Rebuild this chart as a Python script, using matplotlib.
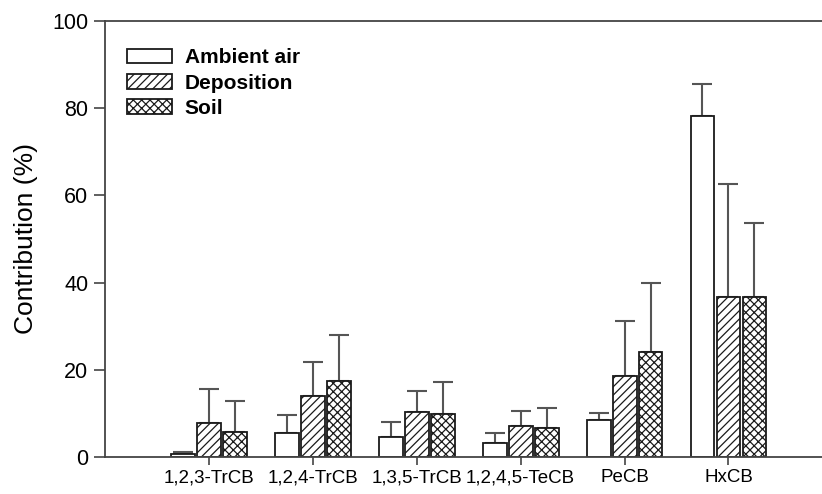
import numpy as np
import matplotlib.pyplot as plt

plt.rcParams['font.family'] = ['Liberation Sans', 'DejaVu Sans']
plt.rcParams['hatch.linewidth'] = 0.9

categories = ['1,2,3-TrCB', '1,2,4-TrCB', '1,3,5-TrCB', '1,2,4,5-TeCB', 'PeCB', 'HxCB']
series_names = ['Ambient air', 'Deposition', 'Soil']

ambient = [0.6, 5.5, 4.7, 3.3, 8.4, 78.1]
ambient_top = [1.2, 9.6, 8.1, 5.4, 10.0, 85.6]
deposition = [7.9, 13.9, 10.3, 7.2, 18.6, 36.8]
deposition_top = [15.6, 21.7, 15.2, 10.6, 31.1, 62.5]
soil = [5.8, 17.4, 9.9, 6.7, 24.1, 36.8]
soil_top = [12.8, 27.9, 17.3, 11.3, 40.0, 53.7]

hatches = ['', '////', 'xxxx']

fig = plt.figure(figsize=(8.22, 4.94), dpi=100)
ax = fig.add_axes([0.1277, 0.0749, 0.8723, 0.8826])

x = np.arange(1, len(categories) + 1)
width = 0.23
step = 0.25
values = [ambient, deposition, soil]
tops = [ambient_top, deposition_top, soil_top]

for i in range(3):
    pos = x + (i - 1) * step
    vals = np.array(values[i])
    err = np.array(tops[i]) - vals
    ax.errorbar(pos, vals, yerr=[np.zeros_like(err), err], fmt='none',
                ecolor='#555555', elinewidth=1.5, capsize=7, capthick=1.5, zorder=1)
    ax.bar(pos, vals, width, color='white', edgecolor='#1a1a1a', linewidth=1.3,
           hatch=hatches[i], label=series_names[i], zorder=2)

ax.set_xlim(0, 6.9)
ax.set_ylim(0, 100)
ax.set_yticks(np.arange(0, 101, 20))
ax.set_xticks(x)
ax.set_xticklabels(categories, fontsize=13.5)
ax.tick_params(axis='y', labelsize=15.5, length=8, width=1.2, color='#444444', pad=4)
ax.tick_params(axis='x', length=6, width=1.2, color='#444444', pad=3)
ax.set_ylabel('Contribution (%)', fontsize=19, labelpad=10)

for s in ['left', 'bottom', 'top']:
    ax.spines[s].set_color('#444444')
    ax.spines[s].set_linewidth(1.3)
ax.spines['right'].set_visible(False)

leg = ax.legend(loc='upper left', bbox_to_anchor=(0.004, 0.98), frameon=False,
                prop={'weight': 'bold', 'size': 15}, handlelength=2.2, handleheight=0.7,
                labelspacing=0.3, handletextpad=0.6)

fig.savefig('out.png', dpi=100)
